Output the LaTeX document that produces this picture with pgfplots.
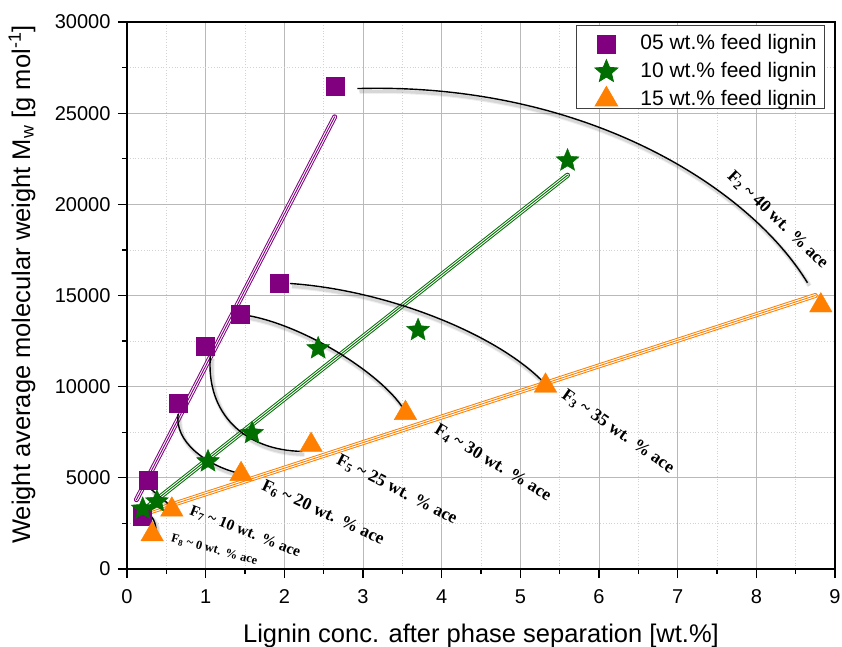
\documentclass[border=0pt]{standalone}
\usepackage{fontspec}
\setmainfont{Liberation Sans}
\newfontfamily\tnr{Liberation Serif}
\usepackage{pgfplots}
\pgfplotsset{compat=1.18}

\definecolor{cpurple}{RGB}{128,0,128}
\definecolor{cgreen}{RGB}{0,110,0}
\definecolor{corange}{RGB}{255,128,0}

% filled five-pointed star
\pgfdeclareplotmark{fstar}{%
  \pgfpathmoveto{\pgfpointpolar{90}{\pgfplotmarksize}}%
  \pgfpathlineto{\pgfpointpolar{126}{0.45\pgfplotmarksize}}%
  \pgfpathlineto{\pgfpointpolar{162}{\pgfplotmarksize}}%
  \pgfpathlineto{\pgfpointpolar{198}{0.45\pgfplotmarksize}}%
  \pgfpathlineto{\pgfpointpolar{234}{\pgfplotmarksize}}%
  \pgfpathlineto{\pgfpointpolar{270}{0.45\pgfplotmarksize}}%
  \pgfpathlineto{\pgfpointpolar{306}{\pgfplotmarksize}}%
  \pgfpathlineto{\pgfpointpolar{342}{0.45\pgfplotmarksize}}%
  \pgfpathlineto{\pgfpointpolar{18}{\pgfplotmarksize}}%
  \pgfpathlineto{\pgfpointpolar{54}{0.45\pgfplotmarksize}}%
  \pgfpathclose
  \pgfusepathqfillstroke}

\newcommand{\flab}{\tnr\bfseries\fontsize{17.5}{18}\selectfont}
\newcommand{\fsub}[1]{F\textsubscript{#1}}
\newcommand{\wtace}[1]{#1 wt.\hspace{0.38em}\% ace}

% three-stripe fit line: colour / white / colour
\newcommand{\fitline}[3]{%
  \addplot[draw=#1, line width=5pt, line cap=round, forget plot] coordinates {#2 #3};
  \addplot[draw=white, line width=3pt, line cap=round, forget plot] coordinates {#2 #3};
  \addplot[draw=#1, line width=0.9pt, line cap=round, forget plot] coordinates {#2 #3};
}

% black connector with soft shadow
\newcommand{\conn}[1]{%
  \draw[black!60, line width=5pt, opacity=0.10, xshift=2pt, yshift=-3pt] #1;
  \draw[black!60, line width=3pt, opacity=0.18, xshift=2pt, yshift=-3pt] #1;
  \draw[black, line width=1.4pt] #1;
}

\begin{document}
\begin{tikzpicture}
\begin{axis}[
  scale only axis,
  width=708pt, height=547pt,
  xmin=0, xmax=9, ymin=0, ymax=30000,
  xtick={0,1,...,9},
  ytick={0,5000,...,30000},
  minor tick num=1,
  tick align=outside,
  xtick pos=bottom, ytick pos=left,
  major tick length=9pt, minor tick length=5pt,
  every tick/.style={black, line width=1.3pt},
  axis line style={black, line width=1.6pt},
  grid=both,
  major grid style={gray!55, line width=0.8pt},
  minor grid style={gray!35, line width=0.8pt, dotted},
  tick label style={font=\fontsize{20}{24}\selectfont},
  xticklabel style={yshift=-8pt},
  yticklabel style={xshift=-4pt},
  /pgf/number format/assume math mode=true,
  /pgf/number format/1000 sep={},
  scaled y ticks=false,
  xlabel={Lignin conc. after phase separation [wt.\%]},
  ylabel={Weight average molecular weight M\textsubscript{w} [g mol\textsuperscript{-1}]},
  label style={font=\fontsize{25.5}{28}\selectfont},
  xlabel style={at={(axis description cs:0.5,-0.134)}, anchor=base},
  ylabel style={at={(axis description cs:-0.137,0.52)}, anchor=base},
  legend image code/.code={%
    \path[draw=none, fill=none] (0pt,-12pt) rectangle (56pt,2pt);
    \pgfinterruptboundingbox
    \draw[#1] plot coordinates {(22pt,-5pt)};
    \endpgfinterruptboundingbox},
  legend style={
    draw=black!75, line width=0.8pt, fill=white,
    at={(0.986,0.994)}, anchor=north east,
    inner xsep=8pt, inner ysep=2pt, row sep=4.5pt,
    font=\fontsize{21}{21}\selectfont,
    nodes={inner sep=0pt, text height=22pt, text depth=0.5pt},
  },
  legend cell align=left,
]

% measured molecular weights
\addplot[only marks, mark=square*, mark size=9pt, color=cpurple, fill=cpurple]
  coordinates {(2.65,26500) (1.93,15650) (1.44,13950) (1.00,12200)
               (0.65,9100) (0.27,4850) (0.19,2900)};
\addlegendentry{05 wt.\% feed lignin}

\addplot[only marks, mark=fstar, mark size=12pt, color=cgreen, fill=cgreen]
  coordinates {(5.60,22400) (3.70,13100) (2.43,12100) (1.59,7450)
               (1.03,5900) (0.38,3700) (0.20,3300)};
\addlegendentry{10 wt.\% feed lignin}

\addplot[only marks, mark=triangle*, mark size=13pt, color=corange, fill=corange]
  coordinates {(8.82,14450) (5.32,10050) (3.54,8550) (2.34,6800)
               (1.45,5200) (0.57,3250) (0.32,1900)};
\addlegendentry{15 wt.\% feed lignin}

% linear fits
\fitline{cpurple}{(0.12,3800)}{(2.64,24800)}
\fitline{cgreen}{(0.17,3100)}{(5.60,21600)}
\fitline{corange}{(0.29,3130)}{(8.75,15000)}

% connectors between fractions of equal acetone content
\conn{(axis cs:2.93,26350) .. controls (axis cs:5.8,26700) and (axis cs:7.9,21000) .. (axis cs:8.65,15700)}
\conn{(axis cs:2.07,15660) .. controls (axis cs:3.3,15300) and (axis cs:4.7,12900) .. (axis cs:5.30,10220)}
\conn{(axis cs:1.54,13900) .. controls (axis cs:2.3,13300) and (axis cs:3.3,10500) .. (axis cs:3.54,8600)}
\conn{(axis cs:1.06,11700) .. controls (axis cs:1.0,8500) and (axis cs:1.5,6500) .. (axis cs:2.23,6450)}
\conn{(axis cs:0.65,8500) .. controls (axis cs:0.6,7000) and (axis cs:1.0,5700) .. (axis cs:1.42,5250)}
\conn{(axis cs:0.30,4400) .. controls (axis cs:0.40,4000) and (axis cs:0.50,3700) .. (axis cs:0.55,3450)}
\conn{(axis cs:0.20,3050) .. controls (axis cs:0.30,3100) and (axis cs:0.36,2700) .. (axis cs:0.37,2150)}

\node[rotate=-44, font=\flab] at (axis cs:8.27,19150) {\fsub{2} \textasciitilde{} \wtace{40}};
\node[rotate=-35, font=\flab] at (axis cs:6.24,7520) {\fsub{3} \textasciitilde{} \wtace{35}};
\node[rotate=-31, font=\flab] at (axis cs:4.65,5815) {\fsub{4} \textasciitilde{} \wtace{30}};
\node[rotate=-27, font=\flab] at (axis cs:3.43,4335) {\fsub{5} \textasciitilde{} \wtace{25}};
\node[rotate=-25, font=\flab] at (axis cs:2.49,3070) {\fsub{6} \textasciitilde{} \wtace{20}};
\node[rotate=-21.5, font=\tnr\bfseries\fontsize{15.5}{16}\selectfont] at (axis cs:1.50,2030) {\fsub{7} \textasciitilde{} \wtace{10}};
\node[rotate=-15, font=\tnr\bfseries\fontsize{12.5}{13}\selectfont] at (axis cs:1.11,1040) {\fsub{8} \textasciitilde{} \wtace{0}};

\end{axis}
\pgfresetboundingbox
\path (-127pt,-77pt) rectangle (715pt,569pt);
\end{tikzpicture}
\end{document}
